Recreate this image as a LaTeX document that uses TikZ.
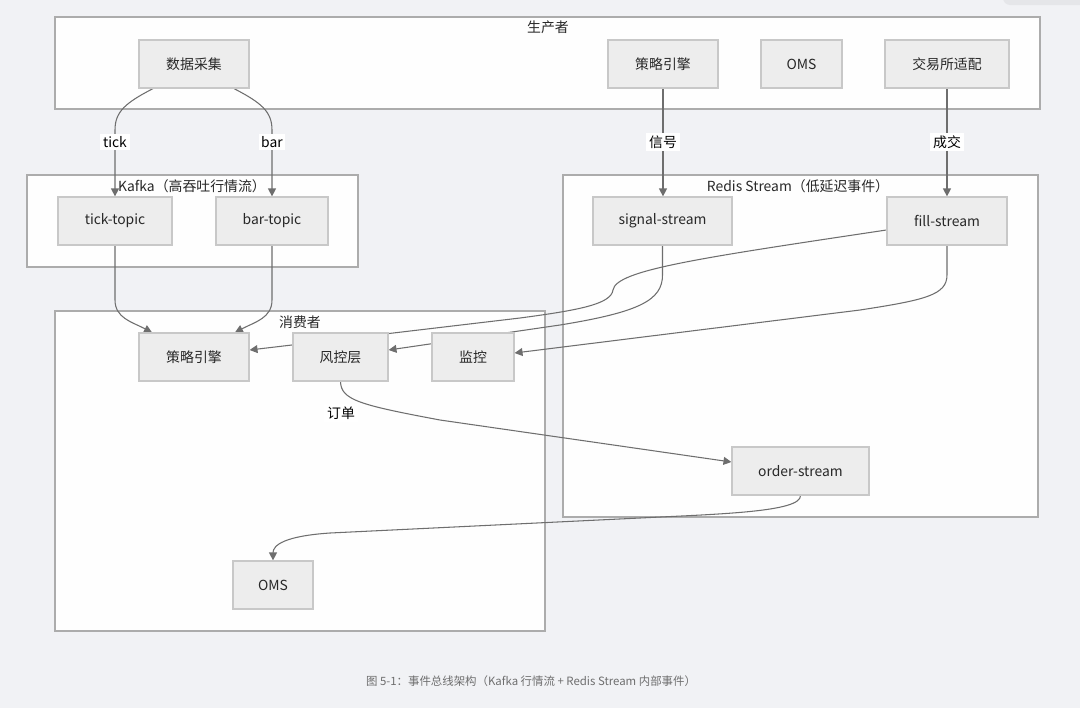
\documentclass[tikz,border=0pt]{standalone}
\usepackage{fontspec}
\setmainfont{Noto Sans CJK SC}
\usetikzlibrary{arrows.meta}
\definecolor{bgc}{RGB}{241,242,245}
\definecolor{clfill}{RGB}{254,254,254}
\definecolor{clborder}{RGB}{172,172,172}
\definecolor{nodefill}{RGB}{237,237,237}
\definecolor{nodeborder}{RGB}{200,200,200}
\definecolor{edgec}{RGB}{110,110,110}
\definecolor{txt}{RGB}{40,40,40}
\definecolor{captc}{RGB}{110,110,110}
\definecolor{tabc}{RGB}{229,230,233}
\pgfdeclarelayer{back}
\pgfdeclarelayer{edges}
\pgfsetlayers{back,edges,main}
\begin{document}
\begin{tikzpicture}[x=0.02cm,y=-0.02cm,
  box/.style={draw=nodeborder, fill=nodefill, line width=0.7pt, minimum height=0.96cm, inner sep=0pt, font=\fontsize{7.9}{9}\selectfont, text=txt},
  cluster/.style={draw=clborder, fill=clfill, line width=0.8pt},
  ctitle/.style={font=\fontsize{7.9}{9}\selectfont, text=txt, inner sep=0pt},
  edge/.style={draw=edgec, line width=0.6pt, -{Triangle[length=4.5pt,width=4.5pt]}},
  elabel/.style={fill=white, inner sep=1.5pt, font=\fontsize{7.9}{9}\selectfont, text=black},
  caption/.style={font=\fontsize{6.5}{7.5}\selectfont, text=captc, inner sep=0pt}]
\useasboundingbox (0,0) rectangle (1080,708);
\begin{pgfonlayer}{back}
\fill[bgc] (0,0) rectangle (1080,708);
\fill[tabc, rounded corners=4pt] (1003,-10) rectangle (1095,5);
\draw[cluster] (55,17) rectangle (1040,109);
\draw[cluster] (27,175) rectangle (358,267);
\draw[cluster] (563,175) rectangle (1038,517);
\draw[cluster] (55,311) rectangle (545,631);
\end{pgfonlayer}

% cluster titles
\node[ctitle] (t1) at (548,27) {生产者};
\node[ctitle] (t2) at (192,186) {Kafka（高吞吐行情流）};
\node[ctitle] (t3) at (798,186) {Redis Stream（低延迟事件）};
\node[ctitle] (t4) at (300,322) {消费者};

% producer nodes
\node[box, minimum width=2.2cm] (dc) at (194,64) {数据采集};
\node[box, minimum width=2.2cm] (sp) at (663,64) {策略引擎};
\node[box, minimum width=1.62cm] (op) at (801.5,64) {OMS};
\node[box, minimum width=2.48cm] (ex) at (947,64) {交易所适配};
% kafka
\node[box, minimum width=2.28cm] (tt) at (115,221) {tick-topic};
\node[box, minimum width=2.24cm] (bt) at (272,221) {bar-topic};
% redis
\node[box, minimum width=2.78cm] (ss) at (662.5,221) {signal-stream};
\node[box, minimum width=2.4cm] (fs) at (947,221) {fill-stream};
\node[box, minimum width=2.74cm] (os) at (800.5,471) {order-stream};
% consumer
\node[box, minimum width=2.2cm] (sc) at (194,357) {策略引擎};
\node[box, minimum width=1.9cm] (rk) at (340.5,357) {风控层};
\node[box, minimum width=1.64cm] (mo) at (473,357) {监控};
\node[box, minimum width=1.6cm] (oc) at (273,585) {OMS};

\begin{pgfonlayer}{edges}
\draw[edge] ([xshift=-0.82cm]dc.south) .. controls (125,103) and (115,112) .. (115,130) -- (tt.north);
\draw[edge] ([xshift=0.8cm]dc.south) .. controls (262,103) and (272,112) .. (272,130) -- (bt.north);
\draw[edge] (sp.south) -- (ss.north -| sp.south);
\draw[edge] (ex.south) -- (fs.north);
\draw[edge] (tt.south) -- (115,300) .. controls (115,318) and (132,322) .. ([xshift=-0.84cm]sc.north);
\draw[edge] (bt.south) -- (272,300) .. controls (272,318) and (255,322) .. ([xshift=0.82cm]sc.north);
\draw[edge] ([yshift=-0.18cm]fs.west) .. controls (700,258) and (616,270) .. (613,290)
   .. controls (611,304) and (580,310) .. (520,318) -- ([yshift=0.14cm]sc.east);
\draw[edge] (ss.south) -- (662.5,275) .. controls (662.5,300) and (640,312) .. (560,325) -- ([yshift=0.14cm]rk.east);
\draw[edge] (fs.south) -- (947,275) .. controls (947,295) and (925,300) .. (860,310) -- ([yshift=0.08cm]mo.east);
\draw[edge] (rk.south) .. controls (341,400) and (360,405) .. (440,420) -- ([yshift=0.18cm]os.west);
\draw[edge] (os.south) .. controls (801,512) and (720,514) .. (640,518) -- (330,533)
   .. controls (285,536) and (273,545) .. (oc.north);
\end{pgfonlayer}

% edge labels
\node[elabel] (l1) at (115,142) {tick};
\node[elabel] (l2) at (272,142) {bar};
\node[elabel] (l3) at (663,142) {信号};
\node[elabel] (l4) at (947,142) {成交};
\node[elabel] (l5) at (341,413) {订单};

\node[caption] (cap) at (531,681) {图 5-1：事件总线架构（Kafka 行情流 + Redis Stream 内部事件）};
\end{tikzpicture}
\end{document}
